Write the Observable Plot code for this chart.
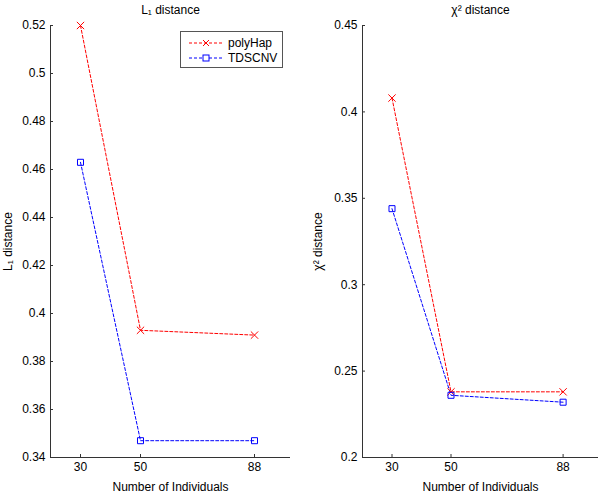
<!DOCTYPE html>
<html><head><meta charset="utf-8">
<script src="https://cdn.jsdelivr.net/npm/d3@7"></script>
<script src="https://cdn.jsdelivr.net/npm/@observablehq/plot@0.6"></script>
<style>
body{margin:0;background:#fff;font-family:"Liberation Sans",Arial,sans-serif;}
#wrap{position:relative;width:600px;height:492px;display:flex;}
#wrap svg{display:block;}
.legend{position:absolute;left:180px;top:31px;width:101px;height:35px;border:1px solid #555;background:#fff;font-size:12px;}
.legend svg{position:absolute;left:0;top:0;}
</style></head>
<body><div id="wrap"></div>
<script>
const individuals = [30, 50, 88];
const series = ["polyHap", "TDSCNV"];
const l1PolyHap = [0.52, 0.393, 0.391];
const l1TDSCNV = [0.463, 0.347, 0.347];
const chi2PolyHap = [0.408, 0.238, 0.238];
const chi2TDSCNV = [0.344, 0.236, 0.232];
const l1Ticks = [0.34, 0.36, 0.38, 0.4, 0.42, 0.44, 0.46, 0.48, 0.5, 0.52];
const chi2Ticks = [0.2, 0.25, 0.3, 0.35, 0.4, 0.45];
const xTicks = [30, 50, 88];
const seriesColors = ["#ff0000", "#0000ff"];
const seriesSymbols = ["times", "square"];

function rows(a, b) {
  const out = [];
  individuals.forEach((n, i) => out.push({series: series[0], n, v: a[i]}));
  individuals.forEach((n, i) => out.push({series: series[1], n, v: b[i]}));
  return out;
}
const fmt = d => String(+d.toFixed(2));

function panel({data, yDomain, yTicks, title, ylabel, marginLeft, marginRight, yLabelOffset}) {
  return Plot.plot({
    width: 300, height: 492,
    marginTop: 25, marginBottom: 35, marginLeft, marginRight,
    style: {fontFamily: "'Liberation Sans', Arial, sans-serif", fontSize: "12px", color: "#000", background: "#fff", overflow: "visible"},
    x: {domain: [20, 100]},
    y: {domain: yDomain},
    color: {domain: series, range: seriesColors},
    symbol: {domain: series, range: seriesSymbols},
    marks: [
      Plot.ruleX([20], {stroke: "#333"}),
      Plot.ruleY([yDomain[0]], {stroke: "#333"}),
      Plot.axisX({ticks: xTicks, tickSize: -3, tickPadding: 8, stroke: "#333", fill: "#000",
        label: "Number of Individuals", labelAnchor: "center", labelArrow: "none", labelOffset: 33}),
      Plot.axisY({ticks: yTicks, tickFormat: fmt, tickSize: -3, tickPadding: 8, stroke: "#333", fill: "#000",
        label: ylabel, labelAnchor: "center", labelArrow: "none", labelOffset: yLabelOffset}),
      Plot.line(data, {x: "n", y: "v", z: "series", stroke: "series", strokeWidth: 1, strokeDasharray: "3,2"}),
      Plot.dot(data, {x: "n", y: "v", stroke: "series", symbol: "series", r: 3.4, strokeWidth: 1}),
      Plot.text([title], {frameAnchor: "top", dy: -12, lineAnchor: "bottom", fontSize: 12, fill: "#000"})
    ]
  });
}

const wrap = document.getElementById("wrap");
wrap.appendChild(panel({
  data: rows(l1PolyHap, l1TDSCNV), yDomain: [0.34, 0.52], yTicks: l1Ticks,
  title: "L₁ distance", ylabel: "L₁ distance", marginLeft: 50, marginRight: 10, yLabelOffset: 47
}));
wrap.appendChild(panel({
  data: rows(chi2PolyHap, chi2TDSCNV), yDomain: [0.2, 0.45], yTicks: chi2Ticks,
  title: "χ² distance", ylabel: "χ² distance", marginLeft: 62, marginRight: 2, yLabelOffset: 49
}));

// legend
const lg = document.createElement("div");
lg.className = "legend";
let svg = `<svg width="101" height="35" xmlns="http://www.w3.org/2000/svg">`;
series.forEach((s, i) => {
  const y = 11 + i * 15;
  const c = seriesColors[i];
  svg += `<line x1="8" x2="42" y1="${y}" y2="${y}" stroke="${c}" stroke-dasharray="3,2"/>`;
  if (seriesSymbols[i] === "times") {
    svg += `<path d="M22,${y-3}L28,${y+3}M22,${y+3}L28,${y-3}" stroke="${c}" fill="none"/>`;
  } else {
    svg += `<rect x="22" y="${y-3}" width="6" height="6" stroke="${c}" fill="#fff"/>`;
  }
  svg += `<text x="47" y="${y}" dy="0.35em" font-size="12" font-family="Liberation Sans, Arial, sans-serif" fill="#000">${s}</text>`;
});
svg += `</svg>`;
lg.innerHTML = svg;
wrap.appendChild(lg);
</script>
</body></html>
